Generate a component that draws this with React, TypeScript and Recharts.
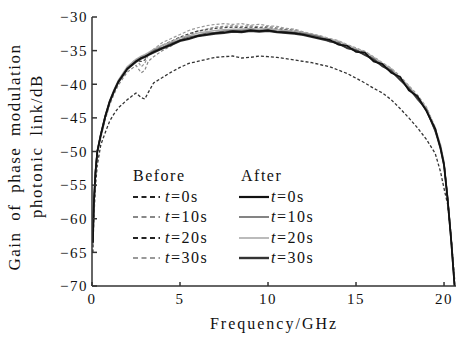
import { Line, LineChart, XAxis, YAxis } from "recharts";

const freq = [0.05, 0.1, 0.2, 0.3, 0.5, 0.75, 1, 1.25, 1.5, 2, 2.5, 2.8, 3, 3.2, 3.5, 4, 4.5, 5, 5.5, 6, 6.5, 7, 7.5, 8, 8.5, 9, 9.5, 10, 10.5, 11, 11.5, 12, 12.5, 13, 13.5, 14, 14.5, 15, 15.5, 16, 16.5, 17, 17.5, 18, 18.5, 19, 19.5, 19.8, 20, 20.2, 20.4, 20.6];

const beforeT0 = [-65, -60, -55, -52, -49, -47.2, -45.5, -44.4, -43.5, -42.3, -41.3, -42.0, -42.2, -41.2, -39.8, -39.0, -38.2, -37.5, -36.9, -36.6, -36.3, -36.0, -35.9, -35.8, -36.1, -36.0, -35.8, -35.9, -36.0, -36.2, -36.4, -36.6, -36.8, -37.1, -37.4, -37.9, -38.4, -39.1, -39.8, -40.6, -41.3, -42.3, -43.6, -45.0, -46.5, -48.2, -50.3, -53, -55.5, -57.8, -62.5, -69];
const beforeT10 = [-64, -58.5, -53.5, -50.5, -48, -45.3, -43.1, -41.5, -40.1, -38.2, -37.2, -38.3, -37.9, -36.6, -35.9, -35.0, -34.3, -33.4, -32.7, -32.1, -31.8, -31.5, -31.4, -31.3, -31.4, -31.3, -31.5, -31.4, -31.6, -31.8, -31.9, -32.3, -32.6, -32.9, -33.3, -33.7, -34.2, -34.8, -35.3, -36.1, -37.0, -37.8, -39.0, -40.4, -41.8, -43.6, -46.6, -49.3, -51.8, -56.8, -62.8, -69.8];
const beforeT20 = [-63.6, -58.1, -53.1, -50.1, -47.6, -44.9, -42.7, -41.1, -39.7, -37.8, -36.5, -36.6, -36.4, -35.5, -35.0, -34.2, -33.6, -33.0, -32.5, -32.1, -31.9, -31.7, -31.6, -31.5, -31.6, -31.5, -31.6, -31.6, -31.8, -31.9, -32.1, -32.4, -32.7, -33.0, -33.4, -33.8, -34.3, -34.9, -35.4, -36.2, -37.1, -37.9, -39.1, -40.5, -41.9, -43.7, -46.7, -49.4, -51.9, -56.9, -62.9, -69.9];
const beforeT30 = [-63.8, -58.3, -53.2, -50.3, -47.8, -45.1, -42.9, -41.2, -39.8, -37.6, -36.2, -37.4, -36.9, -35.6, -34.8, -33.8, -33.2, -32.6, -32.0, -31.6, -31.3, -31.1, -31.0, -31.1, -31.0, -31.2, -31.1, -31.3, -31.4, -31.7, -31.8, -32.2, -32.5, -32.8, -33.2, -33.5, -34.1, -34.6, -35.1, -35.9, -36.8, -37.6, -38.8, -40.2, -41.6, -43.4, -46.4, -49.1, -51.6, -56.6, -62.6, -69.6];
const afterT0 = [-63.5, -58, -53, -50, -47.5, -44.8, -42.6, -41, -39.6, -37.7, -36.6, -36.1, -35.9, -35.6, -35.2, -34.6, -34.1, -33.5, -33.2, -32.8, -32.6, -32.4, -32.3, -32.1, -32.2, -32.0, -32.1, -32.0, -32.2, -32.3, -32.4, -32.6, -32.9, -33.2, -33.4, -34.1, -34.3, -35.2, -35.3, -36.6, -37.0, -38.3, -38.9, -40.9, -41.8, -44.0, -46.6, -49.5, -52, -57, -63, -70];
const afterT10 = [-63.3, -57.8, -52.8, -49.9, -47.4, -44.7, -42.5, -40.9, -39.5, -37.6, -36.5, -36.0, -35.8, -35.5, -35.0, -34.5, -33.9, -33.4, -33.0, -32.7, -32.4, -32.3, -32.1, -32.0, -32.0, -31.9, -32.0, -31.9, -32.1, -32.2, -32.3, -32.5, -32.7, -33.0, -33.7, -33.8, -34.7, -34.9, -35.7, -36.2, -37.4, -37.9, -39.4, -40.5, -42.3, -43.7, -47.0, -49.2, -51.7, -56.7, -62.7, -69.7];
const afterT20 = [-63.2, -57.7, -52.7, -49.8, -47.3, -44.6, -42.4, -40.8, -39.4, -37.4, -36.3, -35.8, -35.6, -35.3, -34.8, -34.2, -33.7, -33.1, -32.8, -32.4, -32.2, -32.0, -31.9, -31.8, -31.8, -31.7, -31.8, -31.7, -31.9, -32.0, -32.1, -32.3, -32.6, -32.9, -33.3, -33.6, -34.2, -34.7, -35.2, -36.0, -36.9, -37.7, -39.0, -40.3, -41.9, -43.5, -46.6, -49.0, -51.6, -56.6, -62.6, -69.6];
const afterT30 = [-63.6, -58.1, -53.1, -50.1, -47.6, -44.9, -42.7, -41.1, -39.7, -37.8, -36.7, -36.2, -36.0, -35.7, -35.3, -34.7, -34.2, -33.6, -33.3, -32.9, -32.7, -32.5, -32.4, -32.2, -32.3, -32.1, -32.2, -32.1, -32.3, -32.4, -32.5, -32.7, -33.0, -33.3, -33.6, -34.0, -34.6, -35.0, -35.6, -36.4, -37.3, -38.1, -39.3, -40.7, -42.1, -43.9, -46.9, -49.6, -52.1, -57.1, -63.1, -70.1];

const xTicks = [0, 5, 10, 15, 20];
const yTicks = [-70, -65, -60, -55, -50, -45, -40, -35, -30];

const data = freq.map((f, i) => ({
  f,
  b0: beforeT0[i],
  b10: beforeT10[i],
  b20: beforeT20[i],
  b30: beforeT30[i],
  a0: afterT0[i],
  a10: afterT10[i],
  a20: afterT20[i],
  a30: afterT30[i],
}));

const serif = "Liberation Serif, serif";
const ink = "#111";
const minus = (v: number) => String(v).replace("-", "\u2212");

const beforeItems = [
  { label: "0s", color: "#222" },
  { label: "10s", color: "#888" },
  { label: "20s", color: "#222" },
  { label: "30s", color: "#999" },
];
const afterItems = [
  { label: "0s", color: "#111", w: 2.2 },
  { label: "10s", color: "#666", w: 1.6 },
  { label: "20s", color: "#aaa", w: 1.6 },
  { label: "30s", color: "#333", w: 2.4 },
];

function Row({ label, color, dashed, w }: { label: string; color: string; dashed: boolean; w: number }) {
  return (
    <div style={{ display: "flex", alignItems: "center", height: 20.5 }}>
      <svg width={30} height={8} style={{ marginRight: 2 }}>
        <line x1={0} y1={4} x2={dashed ? 27 : 31} y2={4} stroke={color} strokeWidth={w} strokeDasharray={dashed ? "5 3.5" : undefined} />
      </svg>
      <span>
        <i>t</i>={label}
      </span>
    </div>
  );
}

function LegendBox() {
  const col = { fontFamily: serif, fontSize: 16, letterSpacing: 1.5, color: ink, lineHeight: "20.5px" };
  return (
    <div style={{ position: "absolute", left: 133, top: 166, display: "flex" }}>
      <div style={{ ...col, width: 106 }}>
        <div style={{ height: 20.5 }}>Before</div>
        {beforeItems.map((it) => (
          <Row key={it.label} label={it.label} color={it.color} dashed w={1.8} />
        ))}
      </div>
      <div style={col}>
        <div style={{ height: 20.5, marginLeft: 2 }}>After</div>
        {afterItems.map((it) => (
          <Row key={it.label} label={it.label} color={it.color} dashed={false} w={it.w} />
        ))}
      </div>
    </div>
  );
}

function YLabel() {
  return (
    <g fontFamily={serif} fontSize={17} fill={ink} letterSpacing={1.5} wordSpacing={5}>
      <text x={14} y={157} transform="rotate(-90 14 157)" textAnchor="middle" dominantBaseline="central">
        Gain of phase modulation
      </text>
      <text x={36} y={146} transform="rotate(-90 36 146)" textAnchor="middle" dominantBaseline="central">
        photonic link/dB
      </text>
    </g>
  );
}

export default function App() {
  const tick = { fill: ink, fontSize: 15, fontFamily: serif, letterSpacing: 1.5 };
  return (
    <div style={{ position: "relative", width: 456, height: 338, background: "#fff" }}>
      <style>{"body{margin:0}"}</style>
      <LineChart width={456} height={338} data={data} margin={{ top: 17, right: 0, left: 0, bottom: 0 }}>
        <XAxis
          dataKey="f"
          type="number"
          domain={[0, 20.68]}
          ticks={xTicks}
          interval={0}
          allowDataOverflow
          height={52}
          stroke="#333"
          strokeWidth={1.5}
          tickSize={-4}
          tickMargin={11}
          tick={tick}
          label={{ value: "Frequency/GHz", position: "insideBottom", offset: 9, style: { fontFamily: serif, fontSize: 16, letterSpacing: 2, fill: ink } }}
        />
        <YAxis
          type="number"
          domain={[-70, -30]}
          ticks={yTicks}
          interval={0}
          allowDataOverflow
          width={92}
          stroke="#333"
          strokeWidth={1.5}
          tickSize={-5}
          tickMargin={9}
          tick={tick}
          tickFormatter={minus}
          label={{ content: () => <YLabel /> }}
        />
        <Line dataKey="b0" stroke="#333" strokeWidth={1.3} strokeDasharray="3 2" dot={false} isAnimationActive={false} />
        <Line dataKey="b10" stroke="#888" strokeWidth={1.2} strokeDasharray="3 2" dot={false} isAnimationActive={false} />
        <Line dataKey="b20" stroke="#444" strokeWidth={1.2} strokeDasharray="3 2" dot={false} isAnimationActive={false} />
        <Line dataKey="b30" stroke="#999" strokeWidth={1.2} strokeDasharray="3 2" dot={false} isAnimationActive={false} />
        <Line dataKey="a20" stroke="#aaa" strokeWidth={1.4} dot={false} isAnimationActive={false} />
        <Line dataKey="a10" stroke="#666" strokeWidth={1.4} dot={false} isAnimationActive={false} />
        <Line dataKey="a30" stroke="#333" strokeWidth={1.7} dot={false} isAnimationActive={false} />
        <Line dataKey="a0" stroke="#111" strokeWidth={1.7} dot={false} isAnimationActive={false} />
      </LineChart>
      <LegendBox />
    </div>
  );
}
